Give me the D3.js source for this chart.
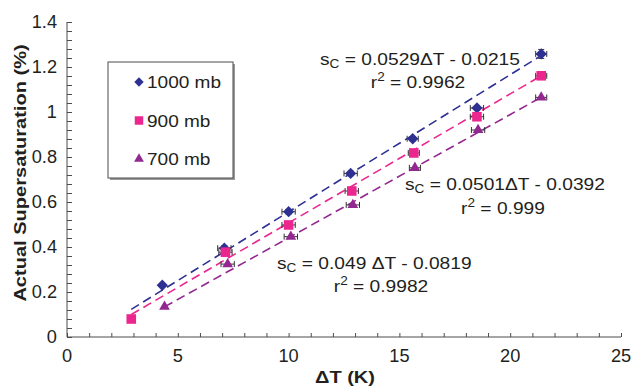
<!DOCTYPE html>
<html>
<head>
<meta charset="utf-8">
<script src="https://cdn.jsdelivr.net/npm/d3@7"></script>
<style>
  body { margin: 0; background: #fff; }
  text { font-family: "Liberation Sans", Arial, sans-serif; fill: #231f20; }
</style>
</head>
<body>
<svg id="chart" width="634" height="389"></svg>
<script>
// data
const seriesNames = ['1000 mb', '900 mb', '700 mb'];
const dT1000 = [4.3, 7.1, 10.0, 12.8, 15.6, 18.5, 21.4];
const ss1000 = [0.23, 0.395, 0.557, 0.727, 0.881, 1.018, 1.258];
const dT900 = [2.9, 7.15, 10.0, 12.85, 15.65, 18.5, 21.4];
const ss900 = [0.08, 0.377, 0.498, 0.649, 0.818, 0.979, 1.161];
const dT700 = [4.4, 7.25, 10.1, 12.9, 15.7, 18.55, 21.4];
const ss700 = [0.135, 0.324, 0.446, 0.587, 0.752, 0.92, 1.065];
const xErr = [0.1, 0.3, 0.3, 0.3, 0.25, 0.3, 0.25];
const yErr1000 = [0, 0.01, 0.01, 0.01, 0.01, 0.01, 0.02];
// dashed trend lines as drawn (start/end)
const fitX = [[2.9, 21.3], [2.9, 21.3], [4.4, 21.3]];
const fitY = [[0.123, 1.245], [0.10, 1.155], [0.134, 1.06]];
const eqText = ['0.0529ΔT - 0.0215', '0.0501ΔT - 0.0392', '0.049 ΔT - 0.0819'];
const r2Text = ['0.9962', '0.999', '0.9982'];
const xTicks = [0, 5, 10, 15, 20, 25];
const yTicks = [0, 0.2, 0.4, 0.6, 0.8, 1, 1.2, 1.4];
const colors = ['#2e3192', '#ec268f', '#92278f'];

const svg = d3.select('#chart');
const x = d3.scaleLinear().domain([0, 25]).range([67, 621]);
const y = d3.scaleLinear().domain([0, 1.4]).range([337, 22]);
const axisColor = '#4d4d4d';

// text helper, the original type runs a bit wide
function label(px, py, size, sx, anchor, rot) {
  return svg.append('text')
    .attr('transform', `translate(${px},${py})${rot ? ' rotate(' + rot + ')' : ''} scale(${sx},1)`)
    .attr('font-size', size).attr('text-anchor', anchor || 'start');
}

// axes
const gx = svg.append('g').attr('transform', `translate(0,${y(0)})`)
  .call(d3.axisBottom(x).tickValues(d3.range(0, 26, 1)).tickSize(-4).tickFormat(''));
gx.selectAll('line, path').attr('stroke', axisColor);
gx.select('.domain').attr('d', `M${x(0)},0H${x(25)}`);
const gy = svg.append('g').attr('transform', `translate(${x(0)},0)`)
  .call(d3.axisLeft(y).tickValues(d3.range(0, 1.401, 0.04)).tickSize(-5).tickFormat(''));
gy.selectAll('line, path').attr('stroke', axisColor);
gy.select('.domain').attr('d', `M0,${y(0)}V${y(1.4)}`);

xTicks.forEach(d => label(x(d), 362, 17.5, 1.04, 'middle').text(d));
yTicks.forEach(d => label(57, y(d) + 6, 17.5, 1.04, 'end').text(d));

label(345, 383, 17, 1.18, 'middle').attr('font-weight', 'bold').text('ΔT (K)');
label(26, 173, 17, 1.18, 'middle', -90).attr('font-weight', 'bold')
  .text('Actual Supersaturation (%)');

// trend lines
svg.append('g').selectAll('line').data(fitX).join('line')
  .attr('x1', d => x(d[0])).attr('y1', (d, i) => y(fitY[i][0]))
  .attr('x2', d => x(d[1])).attr('y2', (d, i) => y(fitY[i][1]))
  .attr('stroke', (d, i) => colors[i]).attr('stroke-width', 1.6)
  .attr('stroke-dasharray', '9,5');

// error bars + markers
const diamond = d3.symbol().type(d3.symbolSquare).size(64);
const series = [
  {xs: dT1000, ys: ss1000, ye: yErr1000, path: diamond(), rot: 45},
  {xs: dT900, ys: ss900, ye: null, path: d3.symbol().type(d3.symbolSquare).size(92)(), rot: 0},
  {xs: dT700, ys: ss700, ye: null, path: d3.symbol().type(d3.symbolTriangle).size(50)(), rot: 0}
];
series.forEach((s, si) => {
  const pts = s.xs.map((v, i) => ({x: v, y: s.ys[i], ex: xErr[i], ey: s.ye ? s.ye[i] : 0}));
  const eb = svg.append('g').attr('stroke', '#333').attr('stroke-width', 1);
  pts.forEach(p => {
    if (p.ex > 0.15) {
      eb.append('line').attr('x1', x(p.x - p.ex)).attr('x2', x(p.x + p.ex))
        .attr('y1', y(p.y)).attr('y2', y(p.y));
      [p.x - p.ex, p.x + p.ex].forEach(e => eb.append('line')
        .attr('x1', x(e)).attr('x2', x(e)).attr('y1', y(p.y) - 3).attr('y2', y(p.y) + 3));
    }
    if (p.ey > 0) {
      eb.append('line').attr('x1', x(p.x)).attr('x2', x(p.x))
        .attr('y1', y(p.y - p.ey)).attr('y2', y(p.y + p.ey));
      [p.y - p.ey, p.y + p.ey].forEach(e => eb.append('line')
        .attr('x1', x(p.x) - 3).attr('x2', x(p.x) + 3).attr('y1', y(e)).attr('y2', y(e)));
    }
  });
  svg.append('g').selectAll('path').data(pts).join('path')
    .attr('transform', d => `translate(${x(d.x)},${y(d.y)}) rotate(${s.rot})`)
    .attr('d', s.path)
    .attr('fill', colors[si]);
});

// equations
const eqPos = [[320, 65, 418, 88], [405, 190, 503, 214], [277, 269, 381, 292]];
eqPos.forEach((p, i) => {
  const t = label(p[0], p[1], 17, 1.13, 'start');
  t.append('tspan').text('s');
  t.append('tspan').attr('font-size', 12).attr('dy', 3).text('C');
  t.append('tspan').attr('dy', -3).text(' = ' + eqText[i]);
  const r = label(p[2], p[3], 17, 1.13, 'middle');
  r.append('tspan').text('r');
  r.append('tspan').attr('font-size', 12).attr('dy', -7).text('2');
  r.append('tspan').attr('dy', 7).text(' = ' + r2Text[i]);
});

// legend
const lg = svg.append('g');
lg.append('rect').attr('x', 110).attr('y', 64).attr('width', 125).attr('height', 116).attr('fill', '#999');
lg.append('rect').attr('x', 108).attr('y', 62).attr('width', 125).attr('height', 116)
  .attr('fill', '#fff').attr('stroke', '#4d4d4d').attr('stroke-width', 1);
const legPaths = [diamond(), d3.symbol().type(d3.symbolSquare).size(72)(), d3.symbol().type(d3.symbolTriangle).size(42)()];
seriesNames.forEach((n, i) => {
  const cy = 82 + i * 38.5;
  lg.append('path').attr('transform', `translate(139,${cy}) rotate(${i === 0 ? 45 : 0})`)
    .attr('d', i === 0 ? d3.symbol().type(d3.symbolSquare).size(44)() : legPaths[i]).attr('fill', colors[i]);
  label(147, cy + 6, 17, 1.12, 'start').text(n);
});
</script>
</body>
</html>
